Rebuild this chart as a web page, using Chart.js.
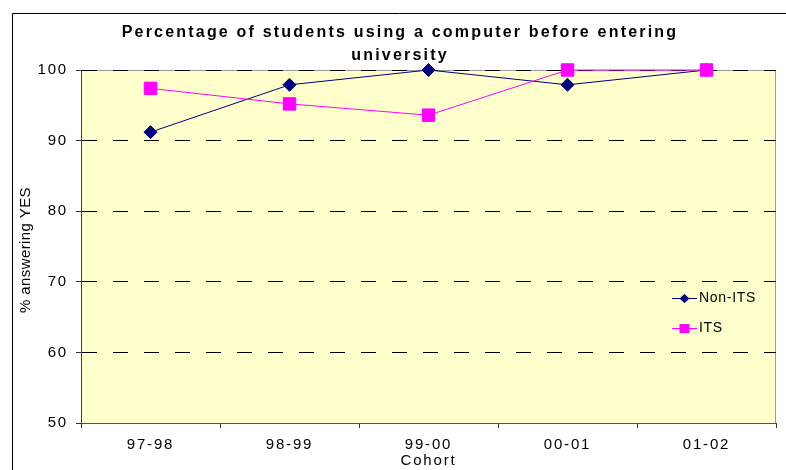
<!DOCTYPE html>
<html>
<head>
<meta charset="utf-8">
<script src="https://cdn.jsdelivr.net/npm/chart.js@4/dist/chart.umd.min.js"></script>
<style>
  html, body { margin: 0; padding: 0; background: #ffffff; }
  #c { display: block; }
</style>
</head>
<body>
<canvas id="c" width="786" height="470"></canvas>
<script>
// Survey cohorts and share of students answering YES (%)
const cohorts = ['97-98', '98-99', '99-00', '00-01', '01-02'];
const nonItsValues = [91.2, 97.9, 100, 97.9, 100];
const itsValues = [97.4, 95.2, 93.6, 100, 100];
const yTickValues = [50, 60, 70, 80, 90, 100];

const titleLines = ['Percentage of students using a computer before entering', 'university'];
const xAxisTitle = 'Cohort';
const yAxisTitle = '% answering YES';
const seriesNames = ['Non-ITS', 'ITS'];

const FONT = '"Liberation Sans", Arial, Helvetica, sans-serif';
const TEXT_SPACING = '1.8px';

Chart.defaults.font.family = FONT;
Chart.defaults.color = '#000000';

// Plot background, frames, heading, rotated axis title and legend
const decor = {
  id: 'decor',
  beforeLayout(chart) {
    chart.ctx.letterSpacing = TEXT_SPACING;
  },
  beforeDraw(chart) {
    const ctx = chart.ctx;
    const a = chart.chartArea;
    ctx.letterSpacing = TEXT_SPACING;
    ctx.save();
    // outer frame
    ctx.strokeStyle = '#000000';
    ctx.lineWidth = 1;
    ctx.beginPath();
    ctx.moveTo(12.5, 480);
    ctx.lineTo(12.5, 13.5);
    ctx.lineTo(800, 13.5);
    ctx.stroke();
    // plot area
    ctx.fillStyle = '#FFFFCC';
    ctx.fillRect(a.left, a.top, a.right - a.left, a.bottom - a.top);
    ctx.strokeStyle = '#9a9a9a';
    ctx.strokeRect(Math.round(a.left) + 0.5, Math.round(a.top) + 0.5,
                   Math.round(a.right - a.left) - 1, Math.round(a.bottom - a.top));
    ctx.restore();
  },
  afterDraw(chart) {
    const ctx = chart.ctx;
    ctx.save();
    // heading
    ctx.fillStyle = '#000000';
    ctx.font = 'bold 16px ' + FONT;
    ctx.letterSpacing = '2.2px';
    ctx.textAlign = 'center';
    ctx.textBaseline = 'alphabetic';
    ctx.fillText(titleLines[0], 400, 37);
    ctx.fillText(titleLines[1], 400, 60);

    // vertical axis title
    ctx.save();
    ctx.font = '15px ' + FONT;
    ctx.letterSpacing = '0.4px';
    ctx.translate(26, 250);
    ctx.rotate(-Math.PI / 2);
    ctx.textAlign = 'center';
    ctx.textBaseline = 'middle';
    ctx.fillText(yAxisTitle, 0, 0);
    ctx.restore();

    // legend
    const order = [0, 1];
    const rows = [298, 328];
    ctx.font = '14px ' + FONT;
    ctx.letterSpacing = '0.7px';
    ctx.textAlign = 'left';
    ctx.textBaseline = 'middle';
    order.forEach((di, k) => {
      const ds = chart.data.datasets[di];
      const y = rows[k] + 0.5;
      ctx.strokeStyle = ds.borderColor;
      ctx.lineWidth = 1;
      ctx.beginPath();
      ctx.moveTo(672, y);
      ctx.lineTo(697, y);
      ctx.stroke();
      ctx.fillStyle = ds.pointBackgroundColor;
      const cx = 684.5;
      ctx.beginPath();
      if (ds.pointStyle === 'rectRot') {
        ctx.moveTo(cx, y - 4.5);
        ctx.lineTo(cx + 5, y);
        ctx.lineTo(cx, y + 4.5);
        ctx.lineTo(cx - 5, y);
        ctx.closePath();
      } else {
        ctx.rect(cx - 5, y - 4.5, 10, 9);
      }
      ctx.fill();
      ctx.fillStyle = '#000000';
      ctx.fillText(ds.label, 699, y);
    });
    ctx.restore();
  }
};

new Chart(document.getElementById('c'), {
  type: 'line',
  data: {
    labels: cohorts,
    datasets: [
      {
        label: seriesNames[0],
        data: nonItsValues,
        borderColor: '#000080',
        backgroundColor: '#000080',
        pointBackgroundColor: '#000080',
        pointBorderColor: '#000080',
        pointStyle: 'rectRot',
        pointRadius: 6.5,
        pointHoverRadius: 6.5,
        pointBorderWidth: 1,
        borderWidth: 1,
        tension: 0,
        clip: false,
        order: 1
      },
      {
        label: seriesNames[1],
        data: itsValues,
        borderColor: '#FF00FF',
        backgroundColor: '#FF00FF',
        pointBackgroundColor: '#FF00FF',
        pointBorderColor: '#FF00FF',
        pointStyle: 'rect',
        pointRadius: 8.8,
        pointHoverRadius: 8.8,
        pointBorderWidth: 1,
        borderWidth: 1,
        tension: 0,
        clip: false,
        order: 0
      }
    ]
  },
  options: {
    responsive: false,
    animation: false,
    devicePixelRatio: 1,
    events: [],
    layout: { padding: { left: 0, right: 10, top: 70, bottom: 0 } },
    plugins: {
      legend: { display: false },
      title: { display: false },
      tooltip: { enabled: false }
    },
    scales: {
      x: {
        type: 'category',
        offset: true,
        grid: {
          display: true,
          offset: true,
          drawOnChartArea: false,
          drawTicks: true,
          tickLength: 5,
          tickColor: '#333333'
        },
        border: { display: true, color: '#505050', width: 1 },
        ticks: {
          font: { size: 15 },
          color: '#000000',
          padding: 8,
          maxRotation: 0,
          autoSkip: false
        },
        title: {
          display: true,
          text: xAxisTitle,
          font: { size: 15 },
          color: '#000000',
          padding: { top: 0, bottom: 0 }
        },
        afterFit(scale) { scale.height = 47; }
      },
      y: {
        min: 50,
        max: 100,
        grid: {
          color: '#000000',
          lineWidth: 1,
          drawTicks: true,
          tickLength: 5,
          tickColor: '#333333',
          tickBorderDash: []
        },
        border: { display: true, color: '#404040', width: 1, dash: [15, 16] },
        ticks: {
          font: { size: 15 },
          color: '#000000',
          padding: 8
        },
        afterBuildTicks(scale) {
          scale.ticks = yTickValues.map(v => ({ value: v }));
        },
        afterFit(scale) { scale.width = 81; }
      }
    }
  },
  plugins: [decor]
});
</script>
</body>
</html>
